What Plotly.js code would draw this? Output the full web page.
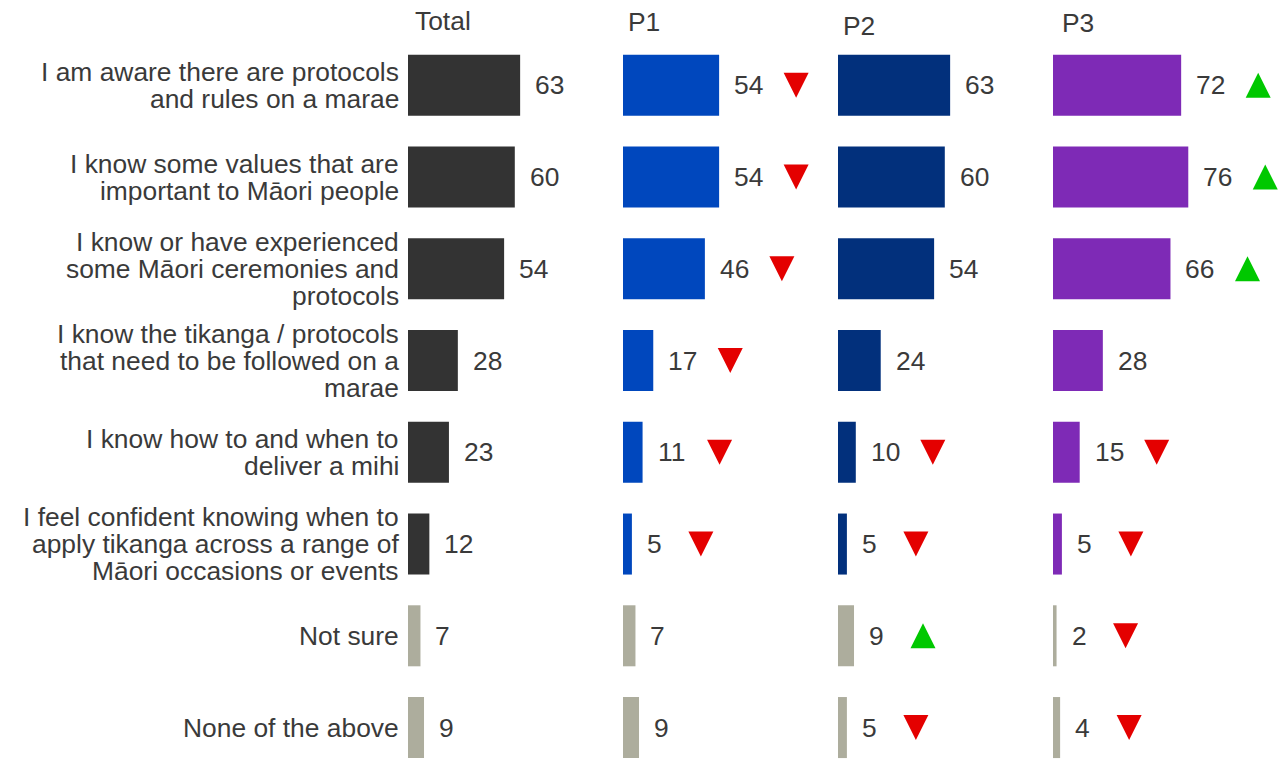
<!DOCTYPE html>
<html>
<head>
<meta charset="utf-8">
<script src="https://cdn.plot.ly/plotly-3.0.1.min.js"></script>
<style>html,body{margin:0;padding:0;background:#fff;}#chart{width:1281px;height:760px;}</style>
</head>
<body>
<div id="chart"></div>
<script>
// ---------- DATA ----------
const categories = [
  "I am aware there are protocols<br>and rules on a marae",
  "I know some values that are<br>important to Māori people",
  "I know or have experienced<br>some Māori ceremonies and<br>protocols",
  "I know the tikanga / protocols<br>that need to be followed on a<br>marae",
  "I know how to and when to<br>deliver a mihi",
  "I feel confident knowing when to<br>apply tikanga across a range of<br>Māori occasions or events",
  "Not sure",
  "None of the above"
];
const neutralCategories = ["Not sure", "None of the above"];
const panels = ["Total", "P1", "P2", "P3"];
const totalValues = [63, 60, 54, 28, 23, 12, 7, 9];
const p1Values    = [54, 54, 46, 17, 11, 5, 7, 9];
const p2Values    = [63, 60, 54, 24, 10, 5, 9, 5];
const p3Values    = [72, 76, 66, 28, 15, 5, 2, 4];
const totalSig = ["", "", "", "", "", "", "", ""];
const p1Sig    = ["down", "down", "down", "down", "down", "down", "", ""];
const p2Sig    = ["", "", "", "", "down", "down", "up", "down"];
const p3Sig    = ["up", "up", "up", "", "down", "down", "down", "down"];

// ---------- STYLE ----------
const seriesValues = [totalValues, p1Values, p2Values, p3Values];
const seriesSig = [totalSig, p1Sig, p2Sig, p3Sig];
const panelColors = ["#333333", "#0047BD", "#02307C", "#7E2AB6"];
const neutralColor = "#ADAD9D";
const textColor = "#3a3a3a";
const fontFamily = "Liberation Sans, Arial, sans-serif";
const fontSize = 26.4;
const W = 1281;
const panelStart = 408, panelWidth = 215, pxPerUnit = 1.78;
const rowPx = 91.75, firstRowPx = 85.3, H = 760;
const titleStyle = [{dx: 7, dy: 21}, {dx: 5, dy: 22}, {dx: 5, dy: 26}, {dx: 9, dy: 23}];

const yIdx = categories.map((_, i) => i);
const r0 = -firstRowPx / rowPx;
const r1 = r0 + H / rowPx;

const traces = [];
const annotations = [];
const shapes = [];
const layout = {
  width: W, height: H,
  margin: {l: 0, r: 0, t: 0, b: 0},
  paper_bgcolor: "#ffffff", plot_bgcolor: "rgba(0,0,0,0)",
  showlegend: false,
  font: {family: fontFamily, size: fontSize, color: textColor},
  yaxis: {range: [r1, r0], autorange: false, visible: false, fixedrange: true, domain: [0, 1]},
  annotations: annotations,
  shapes: shapes
};

panels.forEach((name, p) => {
  const axId = p === 0 ? "x" : "x" + (p + 1);
  const axKey = p === 0 ? "xaxis" : "xaxis" + (p + 1);
  const left = panelStart + p * panelWidth;
  const right = p === panels.length - 1 ? W : left + panelWidth;
  layout[axKey] = {domain: [left / W, right / W], range: [0, (right - left) / pxPerUnit], autorange: false,
                   visible: false, fixedrange: true, anchor: "y"};
  const vals = seriesValues[p];
  traces.push({
    type: "bar", orientation: "h",
    x: vals, y: yIdx, width: 0.665,
    xaxis: axId, yaxis: "y",
    marker: {color: categories.map(c => neutralCategories.includes(c) ? neutralColor : panelColors[p]), line: {width: 0}},
    hoverinfo: "skip"
  });
  annotations.push({
    text: name, xref: axId, x: 0, yref: "paper", y: 1,
    xanchor: "left", yanchor: "middle", xshift: titleStyle[p].dx, yshift: -titleStyle[p].dy,
    showarrow: false, borderpad: 0, borderwidth: 0,
    font: {family: fontFamily, size: fontSize, color: textColor}
  });
  vals.forEach((v, i) => {
    annotations.push({
      text: String(v), xref: axId, x: v, yref: "y", y: i,
      xanchor: "left", yanchor: "middle", xshift: 15,
      showarrow: false, borderpad: 0, borderwidth: 0,
      font: {family: fontFamily, size: fontSize, color: textColor}
    });
    const s = seriesSig[p][i];
    if (s) {
      const off = 61 + 8 * String(v).length;
      const h = 12.5;
      const path = s === "down"
        ? `M ${off - h},${h} L ${off + h},${h} L ${off},${-h} Z`
        : `M ${off - h},${-h} L ${off + h},${-h} L ${off},${h} Z`;
      shapes.push({
        type: "path", xref: axId, yref: "y",
        xsizemode: "pixel", ysizemode: "pixel", xanchor: v, yanchor: i,
        path: path, fillcolor: s === "down" ? "#E40000" : "#00C800",
        line: {width: 0}, layer: "above"
      });
    }
  });
});

const lineGap = 27;
categories.forEach((c, i) => {
  const lines = c.split("<br>");
  const n = lines.length;
  lines.forEach((ln, k) => {
    annotations.push({
      text: ln, xref: "x", x: 0, yref: "y", y: i,
      xanchor: "right", yanchor: "middle", align: "right",
      xshift: -9, yshift: ((n - 1) / 2 - k) * lineGap,
      showarrow: false, borderpad: 0, borderwidth: 0,
      font: {family: fontFamily, size: fontSize, color: textColor}
    });
  });
});

Plotly.newPlot("chart", traces, layout, {staticPlot: true, displayModeBar: false});
</script>
</body>
</html>
